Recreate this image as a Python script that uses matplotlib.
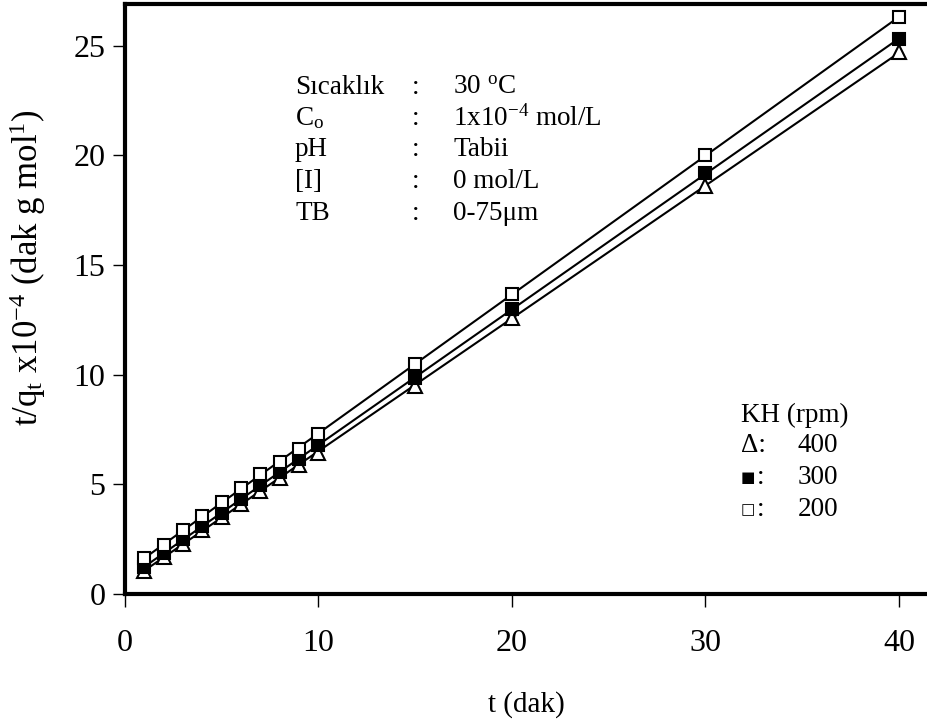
import matplotlib
matplotlib.use("Agg")
from matplotlib import pyplot as plt
import numpy as np

plt.rcParams['font.family'] = ['Liberation Serif', 'DejaVu Serif']
plt.rcParams['mathtext.fontset'] = 'custom'
plt.rcParams['mathtext.rm'] = 'Liberation Serif'
plt.rcParams['mathtext.it'] = 'Liberation Serif:italic'

# time (dak) and t/qt x10^-4 for the three stirring speeds
t = [1, 2, 3, 4, 5, 6, 7, 8, 9, 10, 15, 20, 30, 40]
kh_400 = [1.05, 1.7, 2.3, 2.9, 3.5, 4.1, 4.7, 5.3, 5.9, 6.45, 9.5, 12.6, 18.6, 24.7]
kh_300 = [1.25, 1.85, 2.5, 3.1, 3.7, 4.35, 4.95, 5.55, 6.15, 6.8, 9.85, 13.0, 19.2, 25.3]
kh_200 = [1.65, 2.25, 2.9, 3.55, 4.2, 4.85, 5.45, 6.0, 6.6, 7.3, 10.5, 13.7, 20.0, 26.3]

fig = plt.figure(figsize=(9.28, 7.26), dpi=100)
ax = fig.add_axes([125/928, 132/726, 803/928, 590/726])

t_np = np.array(t)
series = [(kh_400, dict(marker='^', mfc='white', ms=10)),
          (kh_300, dict(marker='s', mfc='black', ms=8)),
          (kh_200, dict(marker='s', mfc='white', ms=8.5))]
t_fit = np.array([t[0], t[-1]])
for y, style in series:
    # linear fit of t/qt vs t (pseudo-second-order plot)
    slope, icpt = np.polyfit(t_np, np.array(y), 1)
    ax.plot(t_fit, slope * t_fit + icpt, color='black', lw=1.5, zorder=2)
    ax.plot(t_np, y, ls='none', mec='black', mew=1.5, zorder=3, **style)

ax.set_xlim(0, 41.5)
ax.set_ylim(0, 26.9)
ax.set_xticks([0, 10, 20, 30, 40])
ax.set_yticks([0, 5, 10, 15, 20, 25])
ax.tick_params(labelsize=23, length=9, width=1, direction='out', pad=16)
ax.tick_params(axis='y', pad=5)
for side in ['left', 'bottom', 'top']:
    ax.spines[side].set_linewidth(3)
ax.spines['right'].set_visible(False)

ax.set_xlabel('t (dak)', fontsize=21, labelpad=24)
ax.set_ylabel(r't/q$_\mathrm{t}$ x10$^{-4}$ (dak g mol$^{1}$)', fontsize=25)
ax.yaxis.set_label_coords(-0.096, 1 - (268 - 4) / 590)

# experimental conditions
rows = [('Sıcaklık', r'30 $^\mathrm{o}$C'),
        (r'C$_\mathrm{o}$', r'1x10$^{-4}$ mol/L'),
        ('pH', 'Tabii'),
        ('[I]', '0 mol/L'),
        ('TB', '0-75μm')]
y0 = 87
for i, (name, val) in enumerate(rows):
    yy = 1 - (y0 + i * 31.5 - 4) / 590
    ax.text((295 - 125) / 803, yy, name, transform=ax.transAxes, fontsize=19.5, va='center')
    ax.text((412 - 125) / 803, yy, ':', transform=ax.transAxes, fontsize=19.5, va='center')
    ax.text((453 - 125) / 803, yy, val, transform=ax.transAxes, fontsize=19.5, va='center')

# symbol key
ax.text((741 - 125) / 803, 1 - (415 - 4) / 590, 'KH (rpm)', transform=ax.transAxes,
        fontsize=19.5, va='center')
key_rows = [('Δ', '400'), ('■', '300'), ('□', '200')]
for i, (sym, val) in enumerate(key_rows):
    yy = 1 - (446 + i * 32 - 4) / 590
    if sym == 'Δ':
        ax.text((741 - 125) / 803, yy, sym + ':', transform=ax.transAxes,
                fontsize=19.5, va='center')
    else:
        ax.text((741 - 125) / 803, yy, sym, transform=ax.transAxes, fontsize=11,
                va='center', family=['DejaVu Sans'])
        ax.text((757 - 125) / 803, yy, ':', transform=ax.transAxes, fontsize=19.5,
                va='center')
    ax.text((798 - 125) / 803, yy, val, transform=ax.transAxes, fontsize=19.5, va='center')

fig.savefig('out.png', dpi=100)
